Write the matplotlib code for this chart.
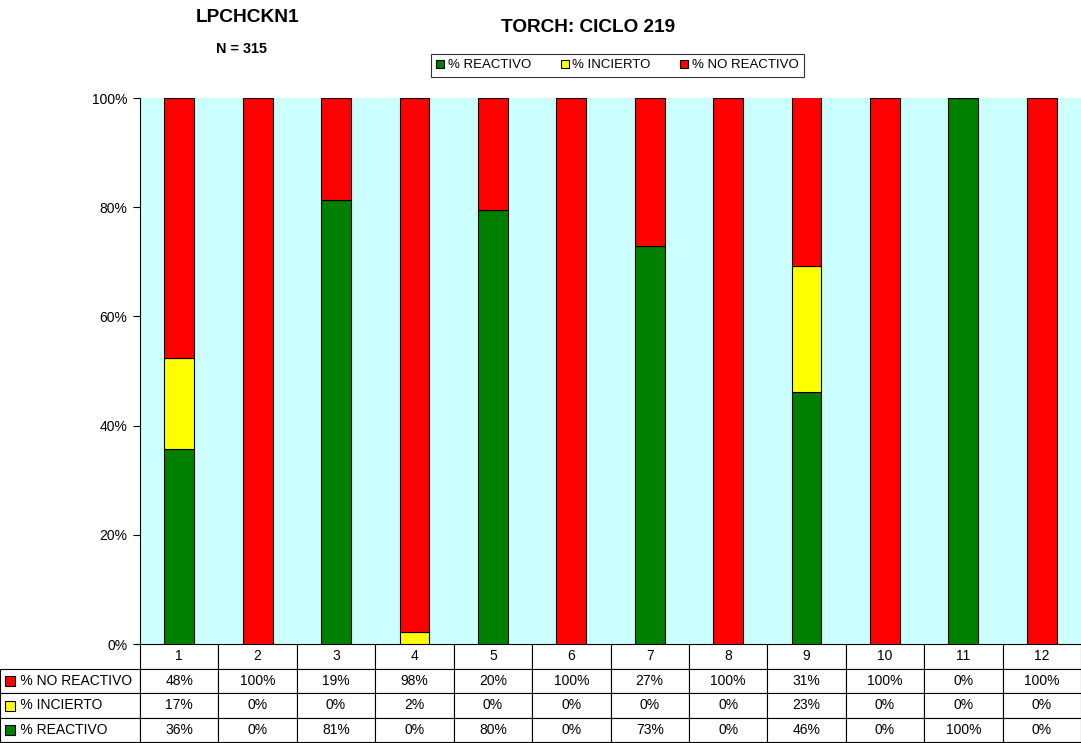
import numpy as np
import matplotlib.pyplot as plt
from matplotlib.patches import Rectangle

plt.rcParams['font.family'] = ['Liberation Sans', 'DejaVu Sans']

# data (fractions; table shows rounded values)
groups = ['1', '2', '3', '4', '5', '6', '7', '8', '9', '10', '11', '12']
reactivo = [35.7, 0, 81.3, 0, 79.5, 0, 72.9, 0, 46.2, 0, 100, 0]
incierto = [16.7, 0, 0, 2.2, 0, 0, 0, 0, 23.1, 0, 0, 0]
no_reactivo = [47.6, 100, 18.7, 97.8, 20.5, 100, 27.1, 100, 30.8, 100, 0, 100]
series_names = ['% REACTIVO', '% INCIERTO', '% NO REACTIVO']
colors = ['#008000', '#FFFF00', '#FF0000']
yticks = [0, 20, 40, 60, 80, 100]

W, H = 1081, 743
fig = plt.figure(figsize=(W / 100, H / 100), dpi=100)
ax = fig.add_axes([140 / W, (H - 644) / H, 941 / W, 546 / H])
ax.set_facecolor('#CCFFFF')

x = np.arange(len(groups))
bottom = np.zeros(len(groups))
handles = []
for vals, c, name in zip([reactivo, incierto, no_reactivo], colors, series_names):
    v = np.array(vals, dtype=float)
    b = ax.bar(x, v, 0.38, bottom=bottom, color=c, edgecolor='black',
               linewidth=0.8, label=name)
    handles.append(b)
    bottom += v

ax.set_xlim(-0.5, len(groups) - 0.5)
ax.set_ylim(0, 100)
ax.set_yticks(yticks)
ax.set_yticklabels(['%d%%' % t for t in yticks], fontsize=10)
ax.tick_params(axis='y', direction='out', length=5, width=0.8, pad=4)
ax.set_xticks([])
for s in ['top', 'right', 'bottom']:
    ax.spines[s].set_visible(False)
ax.spines['left'].set_linewidth(0.8)

# data table under the plot
rows = [[''] + groups]
for name, vals in zip(['% NO REACTIVO', '% INCIERTO', '% REACTIVO'],
                      [no_reactivo, incierto, reactivo]):
    rows.append(['     ' + name] + ['%d%%' % round(v) for v in vals])

col_w = [140] + [941 / 12] * 12
tab = ax.table(cellText=rows, colWidths=col_w, cellLoc='center',
               bbox=[-140 / 941, -98 / 546, 1 + 140 / 941, 98 / 546])
tab.auto_set_font_size(False)
for (r, c), cell in tab.get_celld().items():
    cell.set_linewidth(0.8)
    cell.get_text().set_fontsize(10)
    if c == 0:
        cell.get_text().set_ha('left')
        cell._loc = 'left'
        cell.PAD = 0.01
    if r == 0 and c == 0:
        cell.visible_edges = ''

# colored keys in the table row labels
row_centers = [681, 706, 730]
for yc, c in zip(row_centers, [colors[2], colors[1], colors[0]]):
    fig.add_artist(Rectangle((5 / W, (H - yc - 5) / H), 10 / W, 10 / H,
                             transform=fig.transFigure, facecolor=c,
                             edgecolor='black', linewidth=0.8))

fig.text(588 / W, 1 - 27 / H, 'TORCH: CICLO 219', ha='center', va='center',
         fontsize=13.7, fontweight='bold')
fig.text(248 / W, 1 - 18 / H, 'LPCHCKN1', ha='center', va='center',
         fontsize=13.8, fontweight='bold')
fig.text(242 / W, 1 - 49 / H, 'N = 315', ha='center', va='center',
         fontsize=10.4, fontweight='bold')

leg = fig.legend(handles=handles, loc='center', ncol=3,
                 bbox_to_anchor=(617.5 / W, 1 - 65.5 / H), fontsize=9.5,
                 frameon=True, fancybox=False, edgecolor='black',
                 handlelength=0.6, handleheight=0.6, handletextpad=0.3,
                 columnspacing=2.2, borderpad=0.45)
leg.get_frame().set_linewidth(0.8)

fig.savefig('out.png', dpi=100)
